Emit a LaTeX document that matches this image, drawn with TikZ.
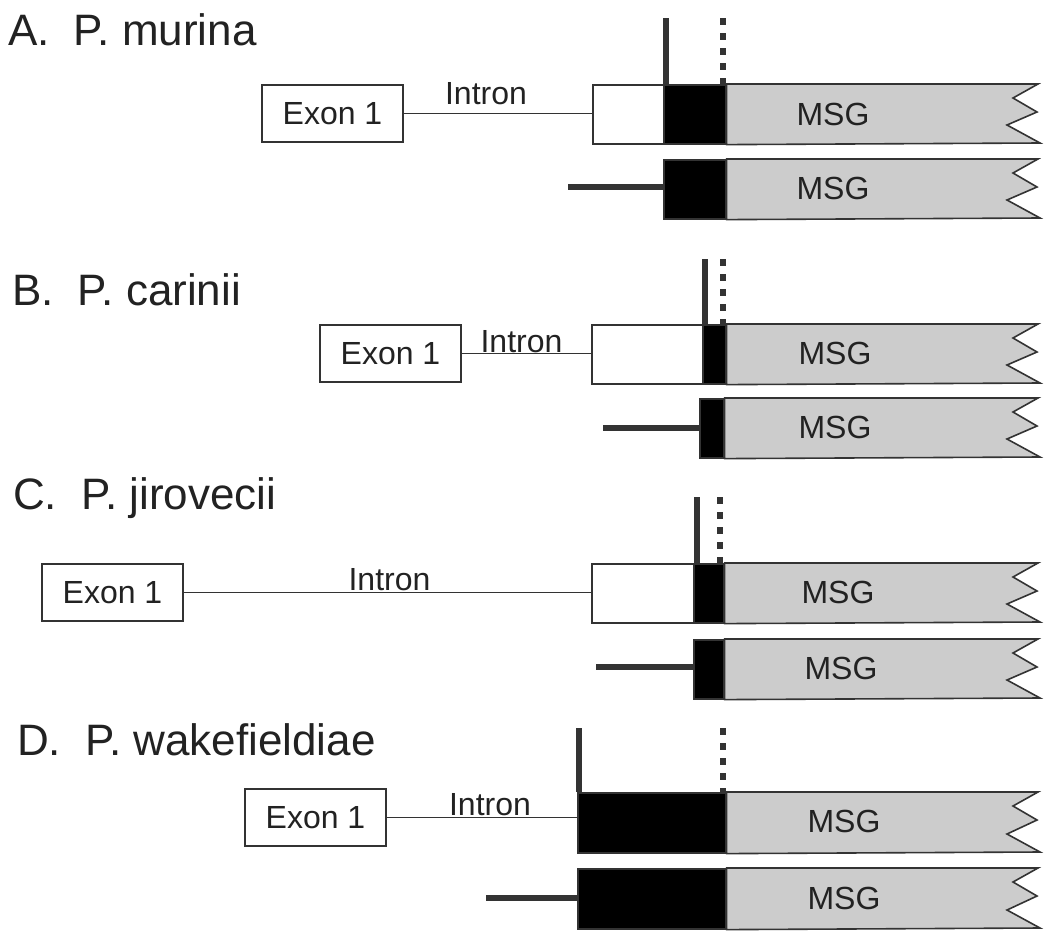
\documentclass[tikz,border=0pt]{standalone}
\usepackage{fontspec}
\setmainfont{Liberation Sans}
\usepackage{tikz}
\usetikzlibrary{
  calc,       % coordinate calculations
  positioning % relative placement
}
\definecolor{ink}{HTML}{222222}
\definecolor{edge}{HTML}{333333}
\definecolor{msggray}{HTML}{CCCCCC}

\begin{document}
\begin{tikzpicture}[x=1pt, y=-1pt,
  title/.style={anchor=base west, inner sep=0pt, text=ink, font=\fontsize{44}{48}\selectfont},
  lbl/.style={inner sep=0pt, text=ink, font=\fontsize{32}{36}\selectfont},
  exon/.style={draw=edge, line width=1.6pt, fill=white, minimum width=141, minimum height=57,
    inner sep=0pt, text=ink, font=\fontsize{32}{36}\selectfont},
  utr/.style={draw=edge, line width=1.6pt, fill=white, minimum height=59, inner sep=0pt, anchor=north west},
  core/.style={draw=edge, line width=1.6pt, fill=black, minimum height=59, inner sep=0pt, anchor=north west},
  msg/.style={draw=edge, line width=1.6pt, fill=msggray, line join=miter},
  intron/.style={draw=edge, line width=1.6pt},
  cut/.style={draw=edge, line width=6pt},
  site/.style={draw=edge, line width=6pt, dash pattern=on 7pt off 8pt},
  stick/.style={draw=edge, line width=6.5pt}]
  \useasboundingbox (0,0) rectangle (1050,938);

  % ===== A. P. murina =====
  \node[title] (tA) at (8,45) {A.\hspace{0.55em}P. murina};

  % upper gene: exon, intron, white block, black block
  \node[exon] (exA) at (332.5,113.5) {Exon 1};
  \node[utr, minimum width=71] (utrA) at (592,84) {};
  \node[core, minimum width=62] (blkA) at (663,84) {};
  \draw[intron] (exA.east) -- (exA.east -| utrA.west);
  \node[lbl, anchor=base] (inA) at (486,104) {Intron};
  \filldraw[msg] (blkA.north east) -- (1038,84) -- ++(-25,14) -- ++(24,14)
    -- ++(-30,13) -- ++(33,18) -- (blkA.south east) -- cycle;
  \node[lbl] (msgA) at (833,114) {MSG};

  % sites above the black block
  \coordinate (cutA) at (666,18);
  \draw[cut] (cutA) -- (cutA |- blkA.north);
  \coordinate (siteA) at (723,18);
  \draw[site] (siteA) -- (siteA |- blkA.north);

  % lower gene
  \node[core, minimum width=62] (blkA2) at (663,159) {};
  \filldraw[msg] (blkA2.north east) -- (1038,159) -- ++(-25,14) -- ++(24,14)
    -- ++(-30,13) -- ++(33,18) -- (blkA2.south east) -- cycle;
  \node[lbl] (msgA2) at (833,188) {MSG};
  \coordinate (stA) at (568,187);
  \draw[stick] (stA) -- (stA -| blkA2.west);

  % ===== B. P. carinii =====
  \node[title] (tB) at (12,305) {B.\hspace{0.55em}P. carinii};

  \node[exon] (exB) at (390.5,353.5) {Exon 1};
  \node[utr, minimum width=111] (utrB) at (591,324) {};
  \node[core, minimum width=23] (blkB) at (702,324) {};
  \draw[intron] (exB.east) -- (exB.east -| utrB.west);
  \node[lbl, anchor=base] (inB) at (521.5,352) {Intron};
  \filldraw[msg] (blkB.north east) -- (1038,324) -- ++(-25,14) -- ++(24,14)
    -- ++(-30,13) -- ++(33,18) -- (blkB.south east) -- cycle;
  \node[lbl] (msgB) at (835,353) {MSG};

  \coordinate (cutB) at (705,259);
  \draw[cut] (cutB) -- (cutB |- blkB.north);
  \coordinate (siteB) at (723,259);
  \draw[site] (siteB) -- (siteB |- blkB.north);

  \node[core, minimum width=24] (blkB2) at (699,398) {};
  \filldraw[msg] (blkB2.north east) -- (1038,398) -- ++(-25,14) -- ++(24,14)
    -- ++(-30,13) -- ++(33,18) -- (blkB2.south east) -- cycle;
  \node[lbl] (msgB2) at (835,427) {MSG};
  \coordinate (stB) at (603,428);
  \draw[stick] (stB) -- (stB -| blkB2.west);

  % ===== C. P. jirovecii =====
  \node[title] (tC) at (13,509) {C.\hspace{0.55em}P. jirovecii};

  \node[exon] (exC) at (112.5,592.5) {Exon 1};
  \node[utr, minimum width=102] (utrC) at (591,563) {};
  \node[core, minimum width=30] (blkC) at (693,563) {};
  \draw[intron] (exC.east) -- (exC.east -| utrC.west);
  \node[lbl, anchor=base] (inC) at (389.5,590) {Intron};
  \filldraw[msg] (blkC.north east) -- (1038,563) -- ++(-25,14) -- ++(24,14)
    -- ++(-30,13) -- ++(33,18) -- (blkC.south east) -- cycle;
  \node[lbl] (msgC) at (838,592) {MSG};

  \coordinate (cutC) at (697,497);
  \draw[cut] (cutC) -- (cutC |- blkC.north);
  \coordinate (siteC) at (720,497);
  \draw[site] (siteC) -- (siteC |- blkC.north);

  \node[core, minimum width=30] (blkC2) at (693,639) {};
  \filldraw[msg] (blkC2.north east) -- (1038,639) -- ++(-25,14) -- ++(24,14)
    -- ++(-30,13) -- ++(33,18) -- (blkC2.south east) -- cycle;
  \node[lbl] (msgC2) at (841,668) {MSG};
  \coordinate (stC) at (596,667);
  \draw[stick] (stC) -- (stC -| blkC2.west);

  % ===== D. P. wakefieldiae =====
  \node[title] (tD) at (17,755) {D.\hspace{0.55em}P. wakefieldiae};

  % no white block here
  \node[exon] (exD) at (315.5,817.5) {Exon 1};
  \node[core, minimum width=148, minimum height=60] (blkD) at (577,792) {};
  \draw[intron] (exD.east) -- (exD.east -| blkD.west);
  \node[lbl, anchor=base] (inD) at (490,815) {Intron};
  \filldraw[msg] (blkD.north east) -- (1038,792) -- ++(-25,14) -- ++(24,14)
    -- ++(-30,14) -- ++(33,18) -- (blkD.south east) -- cycle;
  \node[lbl] (msgD) at (844,821) {MSG};

  \coordinate (cutD) at (579,728);
  \draw[cut] (cutD) -- (cutD |- blkD.north);
  \coordinate (siteD) at (723,728);
  \draw[site] (siteD) -- (siteD |- blkD.north);

  \node[core, minimum width=148, minimum height=60] (blkD2) at (577,868) {};
  \filldraw[msg] (blkD2.north east) -- (1038,868) -- ++(-25,14) -- ++(24,14)
    -- ++(-30,14) -- ++(33,18) -- (blkD2.south east) -- cycle;
  \node[lbl] (msgD2) at (844,898) {MSG};
  \coordinate (stD) at (486,898);
  \draw[stick] (stD) -- (stD -| blkD2.west);
\end{tikzpicture}
\end{document}
